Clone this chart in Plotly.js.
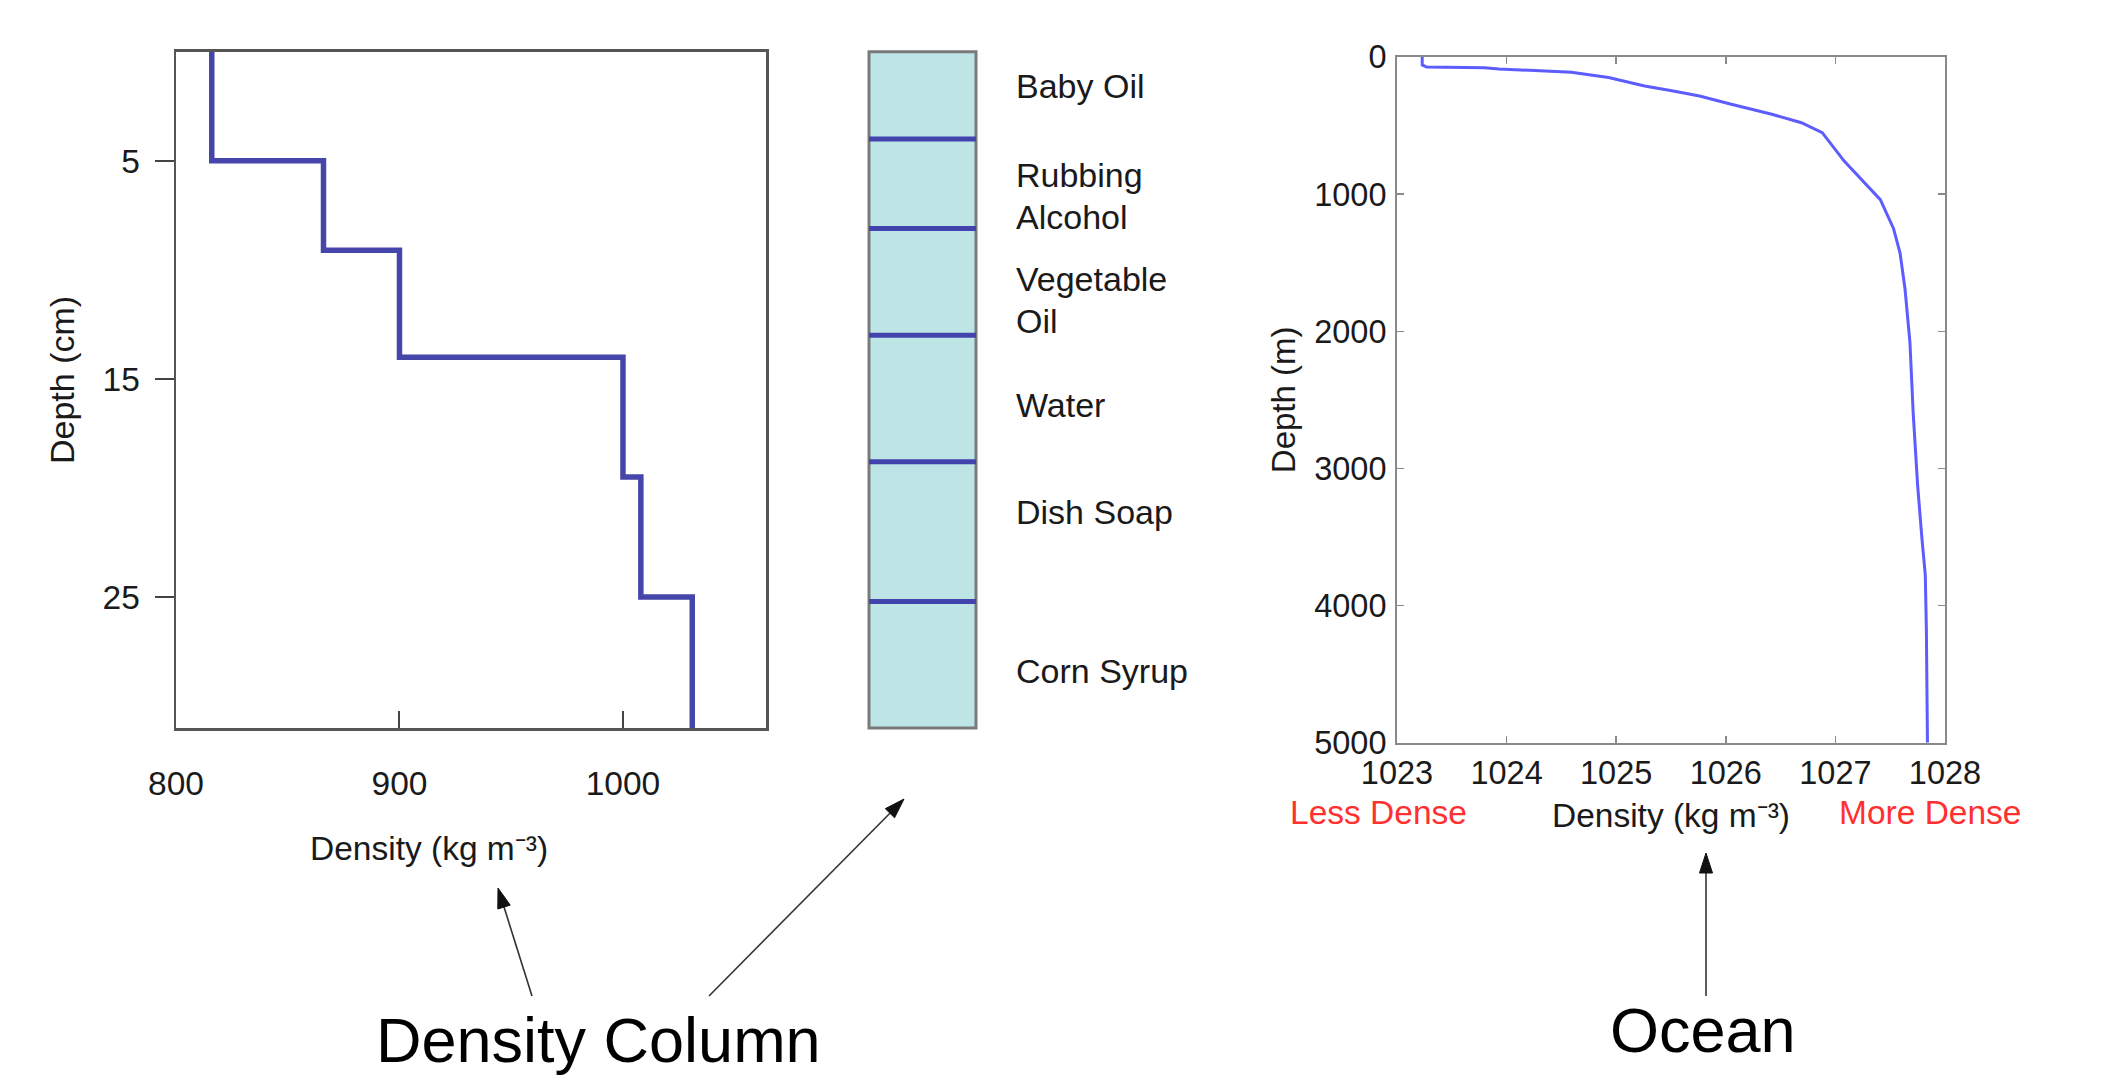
<!DOCTYPE html>
<html>
<head>
<meta charset="utf-8">
<script src="https://cdn.plot.ly/plotly-3.0.1.min.js"></script>
<style>html,body{margin:0;padding:0;background:#fff;}#chart{width:2121px;height:1084px;}</style>
</head>
<body>
<div id="chart"></div>
<script>
// ---- Data ----
const liquidLabels = ['Baby Oil', 'Rubbing<br>Alcohol', 'Vegetable<br>Oil', 'Water', 'Dish Soap', 'Corn Syrup'];
const liquidDensity = [816, 866, 900, 1000, 1008, 1031];      // kg m^-3
const layerTopCm = [0, 5, 9.1, 14, 19.5, 25];                  // depth of top of each layer (cm)
const columnBottomCm = 31;                                     // bottom of the column (cm)
const columnBoundaryCm = [4.0, 8.1, 13.0, 18.8, 25.2];         // layer lines drawn in the column sketch

const oceanDepthM = [0, 58, 73, 78, 87, 112, 150, 211, 248, 284, 345, 418, 479, 552, 759, 905, 1040, 1250, 1430, 1690, 2080, 2600, 3120, 3515, 3775, 4170, 5000];
const oceanDensity = [1023.23, 1023.23, 1023.27, 1023.80, 1023.93, 1024.59, 1024.93, 1025.26, 1025.52, 1025.76, 1026.05, 1026.42, 1026.69, 1026.88, 1027.08, 1027.25, 1027.41, 1027.53, 1027.59, 1027.635, 1027.68, 1027.71, 1027.75, 1027.79, 1027.82, 1027.83, 1027.84];

const leftXTicks = [800, 900, 1000];
const leftYTicks = [5, 15, 25];

// ---- Figure geometry ----
const W = 2121, H = 1084;
const px = x => x / W;
const py = y => 1 - y / H;
const FONT = 'Liberation Sans, Arial, Helvetica, sans-serif';
const TXT = '#1a1a1a';

// column sketch box (pixels) and a small padding so its outline is not clipped
const COL = {l: 869, r: 976, t: 51.7, b: 728};
const padX = 0.05, padY = 0.3;
const colPxPerX = COL.r - COL.l;
const colPxPerY = (COL.b - COL.t) / columnBottomCm;

// step profile (density column)
const stepX = liquidDensity.concat([liquidDensity[liquidDensity.length - 1]]);
const stepY = layerTopCm.concat([columnBottomCm]);

// boundary lines across the column
const bx = [], by = [];
columnBoundaryCm.forEach(d => { bx.push(0, 1, null); by.push(d, d, null); });

const traces = [
  {
    type: 'scatter', mode: 'lines', x: stepX, y: stepY, xaxis: 'x', yaxis: 'y',
    line: {shape: 'vh', color: '#4646aa', width: 5.5}, hoverinfo: 'x+y', showlegend: false
  },
  {
    type: 'bar', x: [0.5], y: [columnBottomCm], base: [0], width: [1], xaxis: 'x2', yaxis: 'y2',
    marker: {color: '#bde5e6', line: {width: 3, color: '#7a7a7a'}}, hoverinfo: 'skip', showlegend: false
  },
  {
    type: 'scatter', mode: 'lines', x: bx, y: by, xaxis: 'x2', yaxis: 'y2',
    line: {color: '#4343ad', width: 5}, hoverinfo: 'skip', showlegend: false
  },
  {
    type: 'scatter', mode: 'lines', x: oceanDensity, y: oceanDepthM, xaxis: 'x3', yaxis: 'y3',
    line: {color: '#5c5cff', width: 3}, showlegend: false
  }
];

const colLabelDepth = [1.55, 6.6, 11.4, 16.2, 21.1, 28.4];
const LINE_GAP = 42; // px between the two lines of a wrapped label

const annotations = [];
liquidLabels.forEach((t, i) => {
  const lines = t.split('<br>');
  lines.forEach((ln, k) => {
    annotations.push({
      text: ln, xref: 'paper', yref: 'y2', x: px(1014), y: colLabelDepth[i],
      yshift: ((lines.length - 1) / 2 - k) * LINE_GAP,
      xanchor: 'left', yanchor: 'middle', align: 'left', showarrow: false,
      font: {family: FONT, size: 34, color: TXT}
    });
  });
});
annotations.push(
  {text: 'Density (kg m\u207B\u00B3)', xref: 'paper', yref: 'paper', x: px(429), y: py(848),
   xanchor: 'center', yanchor: 'middle', showarrow: false, font: {family: FONT, size: 33.5, color: TXT}},
  {text: 'Depth (cm)', xref: 'paper', yref: 'paper', x: px(62), y: py(380), textangle: -90,
   xanchor: 'center', yanchor: 'middle', showarrow: false, font: {family: FONT, size: 34, color: TXT}},
  {text: 'Less Dense', xref: 'paper', yref: 'paper', x: px(1378), y: py(812),
   xanchor: 'center', yanchor: 'middle', showarrow: false, font: {family: FONT, size: 33.5, color: '#ff3030'}},
  {text: 'More Dense', xref: 'paper', yref: 'paper', x: px(1930), y: py(812),
   xanchor: 'center', yanchor: 'middle', showarrow: false, font: {family: FONT, size: 33.5, color: '#ff3030'}},
  {text: 'Density Column', xref: 'paper', yref: 'paper', x: px(598), y: py(1040),
   xanchor: 'center', yanchor: 'middle', showarrow: false, font: {family: FONT, size: 63, color: '#000'}},
  {text: 'Ocean', xref: 'paper', yref: 'paper', x: px(1703), y: py(1030),
   xanchor: 'center', yanchor: 'middle', showarrow: false, font: {family: FONT, size: 63, color: '#000'}}
);

// arrows drawn as shapes (line + filled head), pixel geometry converted to paper fractions
function arrowShapes(tailX, tailY, tipX, tipY) {
  const len = 20, half = 6.5;
  const dx = tipX - tailX, dy = tipY - tailY;
  const d = Math.hypot(dx, dy);
  const ux = dx / d, uy = dy / d;
  const baseX = tipX - ux * len, baseY = tipY - uy * len;
  const nx = -uy, ny = ux;
  const p1 = [baseX + nx * half, baseY + ny * half];
  const p2 = [baseX - nx * half, baseY - ny * half];
  return [
    {type: 'line', xref: 'paper', yref: 'paper', x0: px(tailX), y0: py(tailY), x1: px(baseX), y1: py(baseY),
     line: {color: '#333', width: 1.6}},
    {type: 'path', xref: 'paper', yref: 'paper',
     path: `M ${px(tipX)},${py(tipY)} L ${px(p1[0])},${py(p1[1])} L ${px(p2[0])},${py(p2[1])} Z`,
     fillcolor: '#111', line: {color: '#111', width: 1}}
  ];
}
const shapes = [].concat(
  arrowShapes(532, 996, 498, 888),
  arrowShapes(709, 996, 904, 799),
  arrowShapes(1706, 996, 1706, 853)
);

const layout = {
  width: W, height: H,
  margin: {l: 0, r: 0, t: 0, b: 0},
  paper_bgcolor: '#fff', plot_bgcolor: 'rgba(0,0,0,0)',
  showlegend: false,
  font: {family: FONT, color: TXT},
  xaxis: {
    domain: [px(176), px(766)], range: [800, 1064], anchor: 'y',
    tickvals: leftXTicks, ticks: 'inside', ticklen: 17, tickwidth: 2, tickcolor: '#444',
    showline: true, linecolor: '#555', linewidth: 2.5, mirror: true,
    showgrid: false, zeroline: false, ticklabelstandoff: 24,
    tickfont: {family: FONT, size: 33.5, color: TXT}
  },
  yaxis: {
    domain: [py(728), py(51.7)], range: [columnBottomCm, 0], anchor: 'x',
    tickvals: leftYTicks, ticks: 'outside', ticklen: 19, tickwidth: 2, tickcolor: '#444',
    showline: true, linecolor: '#555', linewidth: 2.5, mirror: true,
    showgrid: false, zeroline: false, ticklabelstandoff: 8,
    tickfont: {family: FONT, size: 33.5, color: TXT}
  },
  xaxis2: {
    visible: false,
    domain: [px(COL.l - padX * colPxPerX), px(COL.r + padX * colPxPerX)],
    range: [-padX, 1 + padX], anchor: 'y2'
  },
  yaxis2: {
    visible: false,
    domain: [py(COL.b + padY * colPxPerY), py(COL.t - padY * colPxPerY)],
    range: [columnBottomCm + padY, -padY], anchor: 'x2'
  },
  xaxis3: {
    domain: [px(1397), px(1945)], range: [1023, 1028], anchor: 'y3', dtick: 1, tick0: 1023,
    ticks: 'inside', ticklen: 7, tickwidth: 1.5, tickcolor: '#8a8a8a',
    showline: true, linecolor: '#8a8a8a', linewidth: 2, mirror: 'ticks',
    showgrid: false, zeroline: false, ticklabelstandoff: 0,
    tickfont: {family: FONT, size: 32.5, color: TXT},
    title: {text: 'Density (kg m\u207B\u00B3)', font: {family: FONT, size: 33.5, color: TXT}, standoff: 14}
  },
  yaxis3: {
    domain: [py(742.7), py(57)], range: [5000, 0], anchor: 'x3', dtick: 1000, tick0: 0,
    ticks: 'inside', ticklen: 7, tickwidth: 1.5, tickcolor: '#8a8a8a',
    showline: true, linecolor: '#8a8a8a', linewidth: 2, mirror: 'ticks',
    showgrid: false, zeroline: false, ticklabelstandoff: 2,
    tickfont: {family: FONT, size: 32.5, color: TXT},
    title: {text: 'Depth (m)', font: {family: FONT, size: 33, color: TXT}, standoff: 9}
  },
  annotations: annotations,
  shapes: shapes
};

Plotly.newPlot('chart', traces, layout, {staticPlot: true, displayModeBar: false});
</script>
</body>
</html>
